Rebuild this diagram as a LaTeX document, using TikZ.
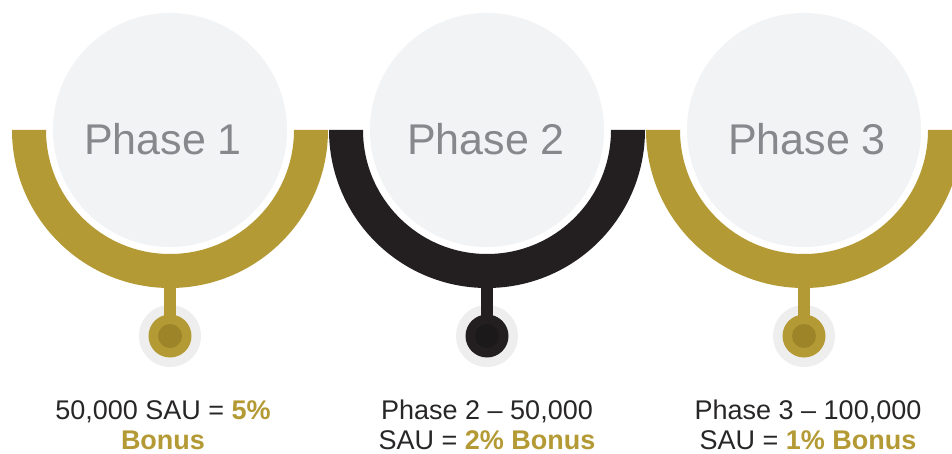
\documentclass[tikz,border=0pt]{standalone}
\usepackage{fontspec}
\setmainfont{Liberation Sans}
\definecolor{gold}{RGB}{180,154,52}
\definecolor{golddark}{RGB}{158,132,40}
\definecolor{ink}{RGB}{35,31,32}
\definecolor{inkdark}{RGB}{28,25,26}
\definecolor{disc}{RGB}{242,243,245}
\definecolor{halo}{RGB}{238,238,238}
\definecolor{titlegray}{RGB}{135,136,140}
\definecolor{bodytext}{RGB}{40,38,38}
\tikzset{
  x=1pt, y=1pt,
  phasedisc/.style={circle, fill=disc, minimum size=234pt, inner sep=0pt},
  phasetitle/.style={text=titlegray, font=\fontsize{43}{50}\selectfont, anchor=base, inner sep=0pt},
  halodot/.style={circle, fill=halo, minimum size=62pt, inner sep=0pt},
  mainstem/.style={line width=12pt},
  bodyline/.style={text=bodytext, font=\fontsize{27}{32}\selectfont, anchor=base, inner sep=0pt},
}
\newcommand{\ringpath}[2]{% center x, colour
  \fill[#2] (#1-158,-130) arc[start angle=180, end angle=360, radius=158]
     -- (#1+124,-130) arc[start angle=0, end angle=-180, radius=124] -- cycle;}
\begin{document}
\begin{tikzpicture}
\useasboundingbox (0,0) rectangle (952,-454);
\fill[white] (0,0) rectangle (952,-454);
\begin{scope}
\clip (0,0) rectangle (952,-454);
% rings
\ringpath{170}{gold}
\ringpath{487}{ink}
\ringpath{804}{gold}
% discs
\node[phasedisc] (c1) at (170,-130) {};
\node[phasedisc] (c2) at (487,-130) {};
\node[phasedisc] (c3) at (804,-130) {};
\node[phasetitle] (t1) at (163,-155) {Phase 1};
\node[phasetitle] (t2) at (486,-155) {Phase 2};
\node[phasetitle] (t3) at (807,-155) {Phase 3};
% ring bottoms
\coordinate (r1) at (170,-286);
\coordinate (r2) at (487,-286);
\coordinate (r3) at (804,-286);
% halos and dots
\node[halodot] (h1) at (170,-336) {};
\node[halodot] (h2) at (487,-336) {};
\node[halodot] (h3) at (804,-336) {};
\draw[mainstem, gold] (r1) -- (h1.center);
\draw[mainstem, ink] (r2) -- (h2.center);
\draw[mainstem, gold] (r3) -- (h3.center);
\node[circle, fill=gold, minimum size=43pt, inner sep=0pt] (d1) at (h1.center) {};
\node[circle, fill=ink, minimum size=43pt, inner sep=0pt] (d2) at (h2.center) {};
\node[circle, fill=gold, minimum size=43pt, inner sep=0pt] (d3) at (h3.center) {};
\node[circle, fill=golddark, minimum size=24pt, inner sep=0pt] (e1) at (h1.center) {};
\node[circle, fill=inkdark, minimum size=24pt, inner sep=0pt] (e2) at (h2.center) {};
\node[circle, fill=golddark, minimum size=24pt, inner sep=0pt] (e3) at (h3.center) {};
% texts
\node[bodyline] (a1) at (163,-419) {50,000 SAU = \textcolor{gold}{\textbf{5\%}}};
\node[bodyline] (b1) at (163,-449) {\textcolor{gold}{\textbf{Bonus}}};
\node[bodyline] (a2) at (487,-419) {Phase 2 – 50,000};
\node[bodyline] (b2) at (487,-449) {SAU = \textcolor{gold}{\textbf{2\% Bonus}}};
\node[bodyline] (a3) at (808,-419) {Phase 3 – 100,000};
\node[bodyline] (b3) at (808,-449) {SAU = \textcolor{gold}{\textbf{1\% Bonus}}};
\end{scope}
\end{tikzpicture}
\end{document}
